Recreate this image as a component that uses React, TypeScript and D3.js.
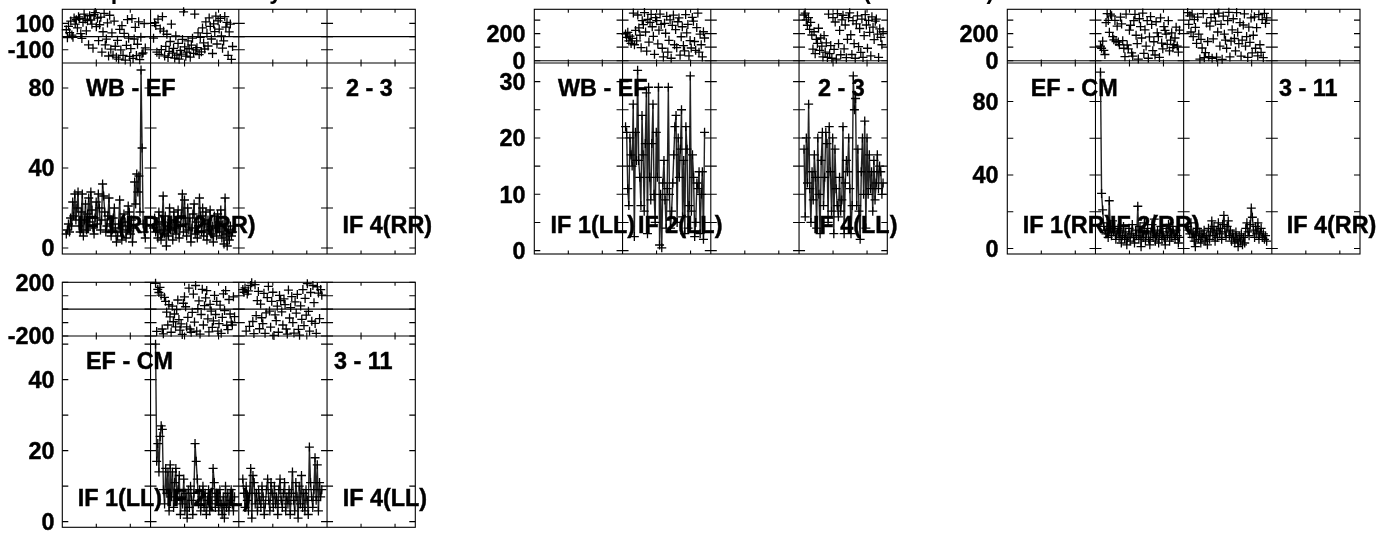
import React from "react";
import * as d3 from "d3";

const WIDTH = 1394;
const HEIGHT = 534;

const titleLeft = "Amp and Phase by baseline - Calibrated with SN 1";
const titleRight = "(Selfcal set)";

// Values: amplitude and phase per IF
const ampWbEfRR1 = [7,9,12,8,15,11,23,16,27,14,20,28,11,8,18,27,6,14,22,9,17,25,13,28,19,10,7,15,23,12,27,20,9,14,32,26,18,8,11,16,25,12,6,9,15,20,10,3,6,12,24,8,4,11,17,13,5,9,21,18,7,14,3,10,33,22,37,28,36,18,89,50,12,8,5];
const ampWbEfRR2 = [10,15,8,12,5,18,9,4,13,26,7,16,1,11,6,20,9,14,4,18,10,7,13,19,5,11,16,27,8,24,12,6,20,9,15,3,10,17,22,7,13,5,11,25,16,8,20,6,12,18,4,14,9,19,7,11,3,16,10,6,17,13,8,19,5,12,2,25,7,1,9,4,11,6,8];
const phWbEfRR1 = [52,-8,78,30,118,12,-5,142,95,128,66,150,137,22,-14,108,171,133,44,121,-62,158,126,94,-88,166,182,75,140,-31,90,147,-118,37,176,-63,-19,104,-147,162,-95,28,-140,118,-73,-156,-28,-170,55,-101,83,-142,25,-178,-66,129,-12,-150,-91,137,-165,-18,70,-144,-58,112,-175,-4,-132,-123,99,-86];
const phWbEfRR2 = [-12,106,84,-118,132,-135,58,-98,151,41,-146,-74,18,-158,-112,-37,94,-125,-89,-163,6,-141,-52,-171,-105,-132,-21,188,-78,-148,-118,-33,-92,-156,-64,-12,-127,170,-101,-84,29,-136,-6,-115,66,-48,-94,112,25,-71,142,78,-18,-128,96,38,155,-56,120,57,138,6,-88,-33,152,72,108,-142,36,95,-172,-75];
const ampWbEfLL1 = [22,21,11,8,20,17,15,26,2.5,21,16,32,16,13,8,24,17,7,19,28,3,29,13,9,19,26,10,5,21,13,29,1,10,0.5,12,16,9,4,11,29,10,4,7,12,17,22,24,5,20,13,18,25,6,16,3,22,18,4,8,31,7,17,13,2.5,5,12,11,14,3,10,14,2,21];
const ampWbEfLL2 = [18,6,20,12,26,11,5,14,9,17,13,4,20,10,3,16,21,8,13,21,19,5,22,14,7,20,3,18,11,8,6,13,7,9,22,3,12,16,14,20,11,3,8,31,25,27,8,18,7,2,14,20,10,23,4,20,10,17,11,14,7,16,9,12,17,11,15,14,10,12];
const phWbEfLL1 = [198,172,210,146,182,128,165,352,118,224,147,338,242,188,96,296,267,356,212,71,305,138,284,342,251,180,47,318,296,124,226,345,268,92,28,276,203,328,64,151,302,18,261,337,118,230,96,288,316,41,177,251,112,72,341,205,268,36,149,94,320,292,142,77,245,352,63,196,118,28,214,168];
const phWbEfLL2 = [338,352,302,262,318,232,284,190,86,214,52,158,128,240,76,168,108,28,186,64,132,24,344,52,112,18,318,84,286,12,348,126,224,44,302,336,88,264,22,158,318,354,192,46,296,126,18,272,332,104,238,62,308,24,186,340,264,92,298,210,36,324,248,156,292,308,196,24,236,172,118,214];
const ampEfCmRR1 = [96,30,21,12,10,8,14,6,26,11,7,15,9,12,5,8,11,6,10,3,7,12,5,9,2,6,11,4,8,13,6,3,10,7,23,5,12,1,9,6,14,4,8,11,5,2,9,13,6,16,4,7,10,3,8,12,5,9,6,2,11,7,13,4,9,6,12,8,5,10,7,3,6];
const ampEfCmRR2 = [12,10,8,14,6,9,4,1,7,11,5,9,3,8,6,10,4,7,2,11,5,9,15,7,12,4,10,6,14,8,11,5,13,18,9,6,12,15,7,10,4,8,6,3,9,5,1,7,4,8,2,6,3,11,14,9,7,13,22,17,10,6,12,8,14,5,9,11,6,8,5,7,4];
const phEfCmRR1 = [108,92,144,76,46,282,348,298,210,344,332,178,154,298,142,256,138,118,322,272,148,92,30,344,116,88,226,262,58,34,296,342,188,126,12,310,252,168,352,54,228,108,296,18,176,326,268,74,140,42,288,206,178,24,316,130,88,252,224,196,120,296,72,152,206,96,118,168,248,108,64,226];
const phEfCmRR2 = [356,268,332,212,344,178,304,246,128,322,196,12,158,94,348,22,60,278,142,30,256,318,18,162,344,292,26,212,352,108,268,10,330,196,152,92,296,358,28,144,228,310,164,72,356,210,126,282,34,152,264,346,108,178,24,248,136,316,58,188,324,92,244,36,340,118,62,304,22,350,276,316];
const ampEfCmLL1 = [50,17,22,14,24,27,26,9,5,15,8,14,3,16,7,14,4,11,15,6,9,13,2,7,5,12,3,8,1,9,4,10,6,2,8,22,17,12,5,9,3,7,10,4,8,2,6,9,3,7,5,15,11,4,8,6,3,9,5,2,7,1,10,4,8,3,6,9,5,3,7];
const ampEfCmLL2 = [12,8,4,10,6,3,8,15,1,13,11,5,8,3,9,6,4,10,7,2,5,9,12,6,3,11,8,4,10,5,7,2,9,12,6,4,8,11,3,7,5,9,2,8,14,6,3,11,7,1,10,5,13,4,8,3,9,6,2,21,11,7,4,9,18,6,16,3,11,7,9];
const phEfCmLL1 = [192,-166,148,124,162,104,-148,-184,88,58,-22,-118,34,-58,-172,22,-94,-36,-132,-4,68,-78,-156,-110,-188,44,92,18,-132,-62,156,-148,-172,-24,112,-96,176,-164,4,62,-186,-40,148,-118,26,84,138,-72,-170,36,-14,-136,-88,102,-40,58,-164,-108,30,-180,-62,114,-10,138,-120,-152,72,-36,-96,-118,92,-56];
const phEfCmLL2 = [146,126,158,-164,112,136,-128,176,196,-92,-182,182,-48,64,132,-146,38,-64,-108,118,-180,-28,86,170,-14,-134,58,126,-196,-42,-86,22,-172,102,64,-20,-118,76,34,-148,-186,142,-66,12,94,-100,-178,54,-30,110,-150,-194,24,-76,146,-122,80,-44,190,-16,-164,124,-90,176,48,-106,-180,166,120,-70,146,104];

const ampLabelsA = [0, 40, 80];
const ampTicksA = [0, 20, 40, 60, 80];
const ampLabelsB = [0, 10, 20, 30];
const ampTicksB = [0, 5, 10, 15, 20, 25, 30];
const ampLabelsD = [0, 20, 40];
const ampTicksD = [0, 10, 20, 30, 40, 50];
const phLabelsA = [100, -100];
const phTicksA = [100, 0, -100];
const phLabelsB = [0, 200];
const phTicksB = [0, 100, 200, 300];
const phLabelsD = [200, -200];
const phTicksD = [200, 100, 0, -100, -200];

const FONT = "'Liberation Sans', Arial, sans-serif";

type Txt = { t: string; x: number; y: number };
type PanelDef = {
  left: number; right: number; top: number; mid: number; bottom: number;
  ampDomain: [number, number]; phDomain: [number, number];
  ampTicks: number[]; ampLabels: number[]; phTicks: number[]; phLabels: number[];
  labelRight: number;
  filled: { section: number; amp: number[]; ph: number[]; start: number }[];
  texts: Txt[];
};

const panels: PanelDef[] = [
  {
    left: 62.3, right: 415.3, top: 9.3, mid: 63, bottom: 254,
    ampDomain: [-3, 92.5], phDomain: [-200, 207],
    ampTicks: ampTicksA, ampLabels: ampLabelsA, phTicks: phTicksA, phLabels: phLabelsA, labelRight: 54.5,
    filled: [
      { section: 0, amp: ampWbEfRR1, ph: phWbEfRR1, start: 4 },
      { section: 1, amp: ampWbEfRR2, ph: phWbEfRR2, start: 3 },
    ],
    texts: [
      { t: "WB - EF", x: 86, y: 96 }, { t: "2 - 3", x: 346, y: 96 },
      { t: "IF 1(RR)", x: 77.5, y: 233 }, { t: "IF 2(RR)", x: 166, y: 233 }, { t: "IF 4(RR)", x: 342.5, y: 233 },
    ],
  },
  {
    left: 534.3, right: 887.3, top: 9.3, mid: 63, bottom: 254,
    ampDomain: [-0.6, 33.3], phDomain: [-17, 380],
    ampTicks: ampTicksB, ampLabels: ampLabelsB, phTicks: phTicksB, phLabels: phLabelsB, labelRight: 525.5,
    filled: [
      { section: 1, amp: ampWbEfLL1, ph: phWbEfLL1, start: 3 },
      { section: 3, amp: ampWbEfLL2, ph: phWbEfLL2, start: 5 },
    ],
    texts: [
      { t: "WB - EF", x: 558, y: 96 }, { t: "2 - 3", x: 818, y: 96 },
      { t: "IF 1(LL)", x: 550.6, y: 233 }, { t: "IF 2(LL)", x: 638, y: 233 }, { t: "IF 4(LL)", x: 813, y: 233 },
    ],
  },
  {
    left: 1007.3, right: 1360, top: 9.3, mid: 63, bottom: 254,
    ampDomain: [-3, 101], phDomain: [-17, 380],
    ampTicks: ampTicksA, ampLabels: ampLabelsA, phTicks: phTicksB, phLabels: phLabelsB, labelRight: 998.5,
    filled: [
      { section: 1, amp: ampEfCmRR1, ph: phEfCmRR1, start: 5 },
      { section: 2, amp: ampEfCmRR2, ph: phEfCmRR2, start: 4 },
    ],
    texts: [
      { t: "EF - CM", x: 1030.7, y: 96 }, { t: "3 - 11", x: 1279, y: 96 },
      { t: "IF 1(RR)", x: 1022.7, y: 233 }, { t: "IF 2(RR)", x: 1110, y: 233 }, { t: "IF 4(RR)", x: 1286.7, y: 233 },
    ],
  },
  {
    left: 62.3, right: 415.3, top: 282.3, mid: 336, bottom: 527.3,
    ampDomain: [-1.6, 52.3], phDomain: [-200, 200],
    ampTicks: ampTicksD, ampLabels: ampLabelsD, phTicks: phTicksD, phLabels: phLabelsD, labelRight: 54.5,
    filled: [
      { section: 1, amp: ampEfCmLL1, ph: phEfCmLL1, start: 5 },
      { section: 2, amp: ampEfCmLL2, ph: phEfCmLL2, start: 4 },
    ],
    texts: [
      { t: "EF - CM", x: 86, y: 369 }, { t: "3 - 11", x: 334, y: 369 },
      { t: "IF 1(LL)", x: 77.7, y: 505.7 }, { t: "IF 2(LL)", x: 166, y: 505.7 }, { t: "IF 4(LL)", x: 342.7, y: 505.7 },
    ],
  },
];

const xTicks = [34, 68];
const SPAN = 79; // horizontal extent of the channels in a section

function crossPath(pts: [number, number][]) {
  const p = d3.path();
  for (const [x, y] of pts) {
    p.moveTo(x - 4.5, y); p.lineTo(x + 4.5, y);
    p.moveTo(x, y - 4.5); p.lineTo(x, y + 4.5);
  }
  return p.toString();
}

function Panel({ def }: { def: PanelDef }) {
  const sw = (def.right - def.left) / 4;
  const yAmp = d3.scaleLinear().domain(def.ampDomain).range([def.bottom, def.mid]);
  const yPh = d3.scaleLinear().domain(def.phDomain).range([def.mid, def.top]);
  const zero = yPh(0);
  const sections = d3.range(4);
  const ticks = d3.path();
  for (const s of sections) {
    const sx = def.left + s * sw;
    for (const t of xTicks) {
      for (const [a, b] of [[def.top, 3.5], [def.mid, -3.5], [def.mid, 3.5], [def.bottom, -3.5]]) {
        ticks.moveTo(sx + t, a); ticks.lineTo(sx + t, a + b);
      }
    }
    for (const edge of [sx, sx + sw]) {
      for (const v of def.ampTicks) {
        ticks.moveTo(edge, yAmp(v));
        ticks.lineTo(edge + (edge === sx ? 6 : -6), yAmp(v));
      }
      for (const v of def.phTicks) {
        ticks.moveTo(edge, yPh(v));
        ticks.lineTo(edge + (edge === sx ? 6 : -6), yPh(v));
      }
    }
  }
  return (
    <g>
      <g fill="none" stroke="#000" strokeWidth={1.1}>
        <rect x={def.left} y={def.top} width={def.right - def.left} height={def.bottom - def.top} />
        <line x1={def.left} x2={def.right} y1={def.mid} y2={def.mid} />
        <line x1={def.left} x2={def.right} y1={zero} y2={zero} />
        {sections.slice(1).map((s) => (
          <line key={s} x1={def.left + s * sw} x2={def.left + s * sw} y1={def.top} y2={def.bottom} />
        ))}
        <path d={ticks.toString()} />
      </g>
      {def.filled.map((f, k) => {
        const sx = def.left + f.section * sw;
        const xAmp = d3.scaleLinear().domain([0, f.amp.length - 1]).range([sx + f.start, sx + f.start + SPAN]);
        const xPh = d3.scaleLinear().domain([0, f.ph.length - 1]).range([sx + f.start, sx + f.start + SPAN]);
        const line = d3.line<number>().x((_, i) => xAmp(i)).y((d) => yAmp(d));
        return (
          <g key={k} fill="none">
            <path d={line(f.amp) || ""} stroke="#222" strokeWidth={1.4} />
            <path d={crossPath(f.amp.map((d, i) => [xAmp(i), yAmp(d)]))} stroke="#000" strokeWidth={1.3} />
            <path d={crossPath(f.ph.map((d, i) => [xPh(i), yPh(d)]))} stroke="#000" strokeWidth={1.3} />
          </g>
        );
      })}
      <g fontFamily={FONT} fontWeight={700} fontSize={23.4} fill="#000" stroke="#000" strokeWidth={0.45}>
        {def.ampLabels.map((v) => (
          <text key={"a" + v} x={def.labelRight} y={yAmp(v) + 8.3} textAnchor="end">{v}</text>
        ))}
        {def.phLabels.map((v) => (
          <text key={"p" + v} x={def.labelRight} y={yPh(v) + 8.3} textAnchor="end">{v}</text>
        ))}
        {def.texts.map((t) => (
          <text key={t.t} x={t.x} y={t.y}>{t.t}</text>
        ))}
      </g>
    </g>
  );
}

export default function App() {
  return (
    <svg
      width={WIDTH}
      height={HEIGHT}
      viewBox={`0 0 ${WIDTH} ${HEIGHT}`}
      style={{ position: "absolute", left: 0, top: 0, background: "#fff" }}
    >
      <defs>
        <filter id="soft" x="0" y="0" width="1" height="1">
          <feGaussianBlur stdDeviation="0.35" />
        </filter>
      </defs>
      <g filter="url(#soft)">
        <g fontFamily={FONT} fontWeight={700} fontSize={23.4} fill="#000">
          <text x={73} y={-1}>{titleLeft}</text>
          <text x={863} y={-1}>{titleRight}</text>
        </g>
        {panels.map((p, i) => <Panel key={i} def={p} />)}
      </g>
    </svg>
  );
}
